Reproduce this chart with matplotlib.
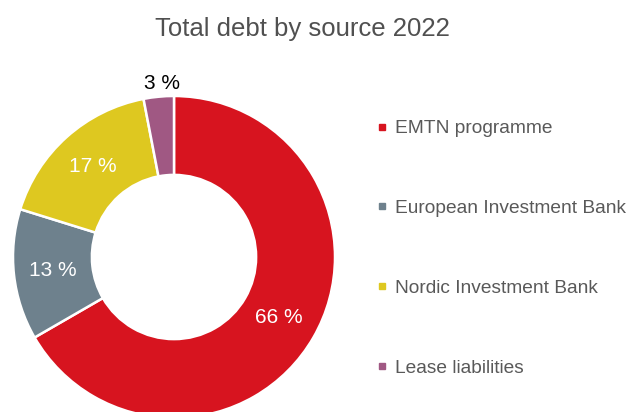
import numpy as np
import matplotlib
matplotlib.use("Agg")
import matplotlib.pyplot as plt
from matplotlib.lines import Line2D

plt.rcParams['font.family'] = ['Liberation Sans', 'DejaVu Sans']

title = "Total debt by source 2022"
categories = ["EMTN programme", "European Investment Bank", "Nordic Investment Bank", "Lease liabilities"]
values = [66, 13, 17, 3]
colors = ["#D7141F", "#6E818D", "#DEC820", "#A05883"]

W, H = 628, 412
fig = plt.figure(figsize=(W / 100, H / 100), dpi=100)

cx, cy, R = 174, 412 - 257, 161
ax = fig.add_axes([(cx - R) / W, (cy - R) / H, 2 * R / W, 2 * R / H])

wedges, texts, autotexts = ax.pie(
    values, colors=colors, startangle=90, counterclock=False,
    radius=1, autopct=lambda p: f"{p * sum(values) / 100:.0f} %",
    pctdistance=0.755,
    wedgeprops=dict(width=0.49, edgecolor='white', linewidth=1.8),
    textprops=dict(color='white', fontsize=15))
ax.set_xlim(-1, 1)
ax.set_ylim(-1, 1)
ax.set_aspect('equal')
ax.axis('off')

# small slice label outside, black
w = wedges[-1]
ang = np.deg2rad((w.theta1 + w.theta2) / 2)
autotexts[-1].set_position((1.08 * np.cos(ang) + 0.03, 1.08 * np.sin(ang)))
autotexts[-1].set_color('black')
autotexts[-1].set_clip_on(False)
for w in wedges:
    w.set_clip_on(False)

fig.text(302 / W, 1 - 29 / H, title, ha='center', va='center', fontsize=18.5, color='#505050')

handles = [Line2D([0], [0], marker='s', linestyle='none', markersize=5,
                  markerfacecolor=c, markeredgecolor=c) for c in colors]
leg = fig.legend(handles, categories, loc='upper left', bbox_to_anchor=(376 / W, 1 - 120 / H),
                 frameon=False, fontsize=13.8, labelcolor='#595959', handlelength=0.6,
                 handletextpad=0.4, labelspacing=3.25, borderpad=0, borderaxespad=0)

fig.savefig("out.png", dpi=100, facecolor='white')
